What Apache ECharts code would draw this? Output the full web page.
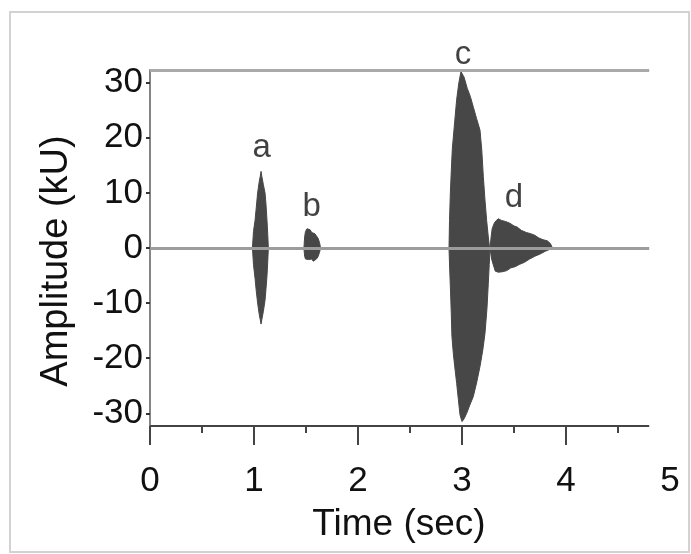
<!DOCTYPE html>
<html>
<head>
<meta charset="utf-8">
<script src="https://cdn.jsdelivr.net/npm/echarts@6/dist/echarts.min.js"></script>
<style>
html,body{margin:0;padding:0;background:#ffffff;}
#chart{width:691px;height:554px;}
</style>
</head>
<body>
<div id="chart"></div>
<script>
// ---- axes / ticks ----
const xTickLabels = [0, 1, 2, 3, 4, 5];
const xMajorTicks = [0, 1, 2, 3, 4];
const yTickLabels = [-30, -20, -10, 0, 10, 20, 30];
const xMin = 0, xMax = 5;
const yMin = -32.3, yMax = 32.3;
const recordEnd = 4.8; // recording length (s): axis / reference lines end here

// ---- event a ----
const aTime  = [0.985, 0.995, 1.01, 1.02, 1.035, 1.05, 1.06, 1.068, 1.075, 1.09, 1.106, 1.115, 1.125, 1.132, 1.138];
const aUpper = [0, 3, 5, 7, 10, 12, 13, 13.9, 13, 11.5, 10, 8, 5, 2.5, 0];
const aLower = [0, -3, -5.5, -7.5, -10, -12, -13, -13.8, -13, -11.5, -9.5, -7.5, -5, -2.5, 0];

// ---- event b ----
const bTime  = [1.48, 1.487, 1.495, 1.51, 1.525, 1.54, 1.555, 1.57, 1.585, 1.60, 1.615, 1.63, 1.64];
const bUpper = [0, 2.0, 3.0, 3.5, 3.6, 3.3, 2.8, 3.0, 2.6, 2.2, 1.8, 1.0, 0];
const bLower = [0, -1.5, -2.0, -2.2, -2.1, -2.3, -2.0, -2.4, -2.2, -2.0, -1.6, -0.8, 0];

// ---- event c ----
const cUpperTime = [2.875, 2.88, 2.888, 2.897, 2.907, 2.93, 2.949, 2.97, 2.99, 3.0, 3.02, 3.05, 3.08, 3.11, 3.14, 3.173, 3.19, 3.205, 3.221, 3.237, 3.253, 3.262, 3.27];
const cUpper     = [0, 5, 10, 14, 18, 23, 27, 30, 32, 32.2, 31, 29, 27.5, 25.5, 23.5, 21.4, 17.8, 13, 8.7, 5, 2, 0.5, 0];
const cLowerTime = [2.875, 2.882, 2.89, 2.897, 2.903, 2.916, 2.93, 2.949, 2.965, 2.981, 3.0, 3.02, 3.045, 3.075, 3.108, 3.14, 3.173, 3.2, 3.221, 3.24, 3.253, 3.262, 3.27];
const cLower     = [0, -4, -8, -12, -16, -19, -21.5, -24.6, -27.5, -30.3, -31.5, -31, -30, -28.5, -27, -24.5, -21.5, -18.5, -15.5, -11, -6.4, -3, 0];

// ---- event d ----
const dUpperTime = [3.27, 3.28, 3.29, 3.31, 3.33, 3.35, 3.38, 3.42, 3.46, 3.50, 3.53, 3.57, 3.62, 3.66, 3.70, 3.74, 3.78, 3.82, 3.85, 3.87];
const dUpper     = [0, 2.0, 3.5, 4.5, 5.0, 5.3, 5.0, 4.8, 4.5, 4.0, 3.8, 3.2, 2.8, 2.6, 2.3, 1.8, 1.5, 1.3, 0.8, 0];
const dLowerTime = [3.27, 3.285, 3.30, 3.32, 3.35, 3.39, 3.43, 3.47, 3.51, 3.55, 3.60, 3.65, 3.70, 3.75, 3.80, 3.85, 3.87];
const dLower     = [0, -2, -3, -4.2, -4.4, -4.3, -4.1, -3.6, -3.4, -3.0, -2.6, -2.0, -1.5, -1.1, -0.6, -0.2, 0];

// ---- event letters ----
const eventNames     = ['a', 'b', 'c', 'd'];
const eventLabelTime = [1.074, 1.555, 3.01, 3.5];
const eventLabelAmp  = [18.1, 7.5, 35.1, 9.1];

const FONT = "'Liberation Sans', Arial, Helvetica, sans-serif";
const WAVE = '#474747';
const TXT = '#111111';

function pairs(ts, vs) { return ts.map((t, i) => [t, vs[i]]); }
function wave(name, ts, vs) {
  return {
    type: 'line', name: name, data: pairs(ts, vs),
    showSymbol: false, symbol: 'none', smooth: false,
    lineStyle: { color: WAVE, width: 1 },
    areaStyle: { color: WAVE, opacity: 1 },
    z: 2, silent: true, animation: false
  };
}

const chart = echarts.init(document.getElementById('chart'), null, { renderer: 'canvas' });
chart.setOption({
  animation: false,
  backgroundColor: '#ffffff',
  graphic: [{
    type: 'rect', z: -1,
    shape: { x: 10, y: 12, width: 679, height: 540 },
    style: { fill: 'none', stroke: '#d2d2d2', lineWidth: 2 }
  }],
  grid: { left: 150, right: 21, top: 70, bottom: 128, containLabel: false },
  xAxis: {
    type: 'value', min: xMin, max: xMax, interval: 1,
    name: 'Time (sec)', nameLocation: 'middle', nameGap: 80,
    nameTextStyle: { fontFamily: FONT, fontSize: 37, color: TXT, padding: [0, 22, 0, 0] },
    axisLine: { show: false, onZero: false },
    splitLine: { show: false },
    axisTick: { show: true, customValues: xMajorTicks, length: 19, lineStyle: { color: '#444', width: 2 } },
    minorTick: { show: true, splitNumber: 2, length: 7, lineStyle: { color: '#444', width: 2 } },
    minorSplitLine: { show: false },
    axisLabel: { customValues: xTickLabels, fontFamily: FONT, fontSize: 35, color: TXT, margin: 38 }
  },
  yAxis: {
    type: 'value', min: yMin, max: yMax,
    name: 'Amplitude (kU)', nameLocation: 'middle', nameGap: 74, nameRotate: 90,
    nameTextStyle: { fontFamily: FONT, fontSize: 38, color: TXT, padding: [0, 26, 0, 0] },
    axisLine: { show: true, onZero: false, lineStyle: { color: '#858585', width: 2 } },
    splitLine: { show: false },
    axisTick: { show: true, customValues: yTickLabels, length: 4, lineStyle: { color: '#333', width: 2 } },
    axisLabel: { customValues: yTickLabels, fontFamily: FONT, fontSize: 35, color: TXT, margin: 7 }
  },
  series: [
    wave('a+', aTime, aUpper), wave('a-', aTime, aLower),
    wave('b+', bTime, bUpper), wave('b-', bTime, bLower),
    wave('c+', cUpperTime, cUpper), wave('c-', cLowerTime, cLower),
    wave('d+', dUpperTime, dUpper), wave('d-', dLowerTime, dLower),
    {
      type: 'line', name: 'ref', data: [], z: 5, clip: false, silent: true,
      markLine: {
        silent: true, symbol: ['none', 'none'], label: { show: false }, animation: false,
        data: [
          [{ coord: [xMin, yMax], lineStyle: { color: '#a9a9a9', width: 3, type: 'solid' } }, { coord: [recordEnd, yMax] }],
          [{ coord: [xMin, 0], lineStyle: { color: '#9c9c9c', width: 3, type: 'solid' } }, { coord: [recordEnd, 0] }],
          [{ coord: [xMin, yMin], lineStyle: { color: '#444444', width: 2, type: 'solid' } }, { coord: [recordEnd, yMin] }]
        ]
      }
    },
    {
      type: 'scatter', name: 'labels', z: 6, clip: false, silent: true,
      symbolSize: 0,
      data: eventNames.map((n, i) => ({ name: n, value: [eventLabelTime[i], eventLabelAmp[i]] })),
      label: { show: true, position: 'inside', formatter: '{b}', fontFamily: FONT, fontSize: 33, color: TXT }
    }
  ]
});
</script>
</body>
</html>
